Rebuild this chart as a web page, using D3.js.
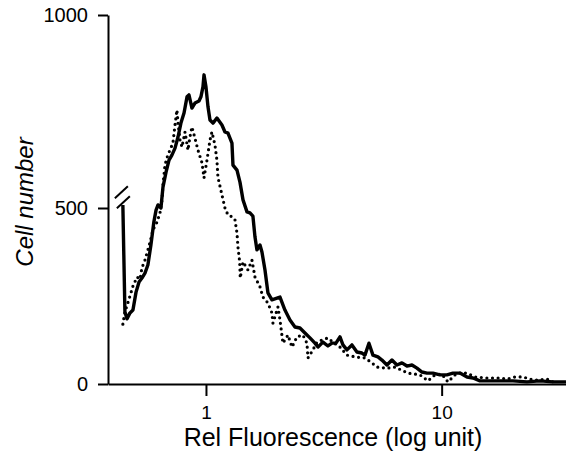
<!DOCTYPE html>
<html>
<head>
<meta charset="utf-8">
<script src="https://cdn.jsdelivr.net/npm/d3@7"></script>
<style>
  body { margin: 0; background: #fff; }
  text { font-family: "Liberation Sans", Arial, Helvetica, sans-serif; fill: #000; }
</style>
</head>
<body>
<div id="chart"></div>
<script>
// Flow cytometry histogram: two overlaid distributions
// (solid = one sample, dotted = the other).

////////////////////////////////////////////////////////////////////////
// Data

// solid curve: relative fluorescence and cell number
let solidX = [0.444, 0.453, 0.462, 0.476, 0.490, 0.505, 0.520, 0.535, 0.551, 0.567,
  0.584, 0.601, 0.614, 0.626, 0.644, 0.657, 0.677, 0.697, 0.717, 0.739,
  0.761, 0.783, 0.807, 0.831, 0.847, 0.872, 0.898, 0.934, 0.952, 0.971,
  0.981, 1.000, 1.020, 1.040, 1.071, 1.113, 1.169, 1.204, 1.240, 1.289,
  1.302, 1.354, 1.394, 1.436, 1.493, 1.537, 1.582, 1.614, 1.646, 1.695,
  1.728, 1.780, 1.832, 1.905, 2.001, 2.061, 2.163, 2.272, 2.386, 2.505,
  2.630, 2.762, 2.900, 2.987, 3.136, 3.293, 3.424, 3.561, 3.703, 3.813,
  3.964, 4.163, 4.371, 4.590, 4.727, 4.915, 5.110, 5.366, 5.580, 5.860,
  6.153, 6.461, 6.785, 7.125, 7.482, 7.857, 8.250, 8.663, 9.185, 9.835,
  10.53, 11.17, 11.96, 12.81, 13.58, 14.54, 16.03, 17.67, 20.07, 23.01,
  26.12, 29.67, 33.69];
let solidY = [508, 205, 185, 202, 210, 261, 290, 301, 315, 338,
  395, 460, 494, 508, 500, 554, 593, 624, 637, 655,
  684, 720, 746, 788, 793, 759, 772, 777, 788, 814,
  845, 814, 762, 728, 720, 733, 715, 697, 694, 668,
  611, 598, 567, 521, 489, 486, 477, 418, 381, 395,
  375, 324, 259, 239, 244, 247, 210, 182, 162, 159,
  145, 131, 116, 105, 119, 108, 116, 116, 134, 111,
  97, 111, 91, 88, 82, 116, 82, 77, 68, 54,
  68, 54, 60, 51, 54, 45, 34, 31, 31, 26,
  26, 31, 31, 20, 17, 9, 9, 9, 9, 6,
  9, 6, 6];

// dotted curve
let dottedX = [0.444, 0.453, 0.462, 0.476, 0.490, 0.510, 0.525, 0.535, 0.551, 0.567,
  0.579, 0.596, 0.620, 0.638, 0.651, 0.657, 0.670, 0.683, 0.703, 0.724,
  0.739, 0.753, 0.761, 0.776, 0.791, 0.815, 0.839, 0.855, 0.872, 0.898,
  0.925, 0.962, 0.981, 1.010, 1.040, 1.060, 1.092, 1.113, 1.124, 1.169,
  1.204, 1.240, 1.302, 1.328, 1.354, 1.367, 1.390, 1.398, 1.436, 1.507,
  1.567, 1.614, 1.695, 1.745, 1.832, 1.905, 1.924, 2.021, 2.061, 2.121,
  2.228, 2.317, 2.433, 2.579, 2.682, 2.709, 2.844, 2.958, 3.106, 3.293,
  3.459, 3.703, 3.964, 4.287, 4.727, 5.061, 5.314, 5.860, 6.336, 7.195,
  8.090, 8.747, 9.368, 10.03, 10.63, 11.61, 12.81, 13.85, 15.57, 17.67,
  18.92, 20.47, 22.13, 23.70, 25.38, 27.98, 29.67];
let dottedY = [170, 205, 222, 250, 278, 304, 298, 330, 352, 381,
  403, 438, 460, 486, 521, 560, 611, 630, 650, 668,
  715, 754, 720, 676, 658, 697, 650, 684, 710, 681,
  650, 617, 578, 624, 676, 697, 663, 624, 580, 534,
  500, 480, 474, 466, 429, 389, 347, 301, 347, 324,
  352, 304, 276, 247, 230, 202, 173, 219, 182, 116,
  139, 105, 134, 139, 116, 74, 97, 119, 125, 131,
  119, 105, 82, 77, 74, 60, 48, 45, 48, 31,
  26, 9, 26, 28, 6, 31, 31, 20, 17, 17,
  14, 20, 20, 14, 11, 14, 6];

let yTicks = [0, 500, 1000];
let xTicks = [1, 10];
let xTitle = "Rel Fluorescence (log unit)";
let yTitle = "Cell number";

////////////////////////////////////////////////////////////////////////
// Setup

let width = 566;
let height = 453;

let svg = d3.select("#chart")
  .append("svg")
  .attr("width", width).attr("height", height);

// log scale for fluorescence
let xScale = d3.scaleLog()
  .domain([0.384, 33.7])
  .range([108, 566]);

// the printed axis is not quite linear, so use a piecewise scale
let yScale = d3.scaleLinear()
  .domain([0, 500, 1000])
  .range([384, 208, 15]);

let solid = solidX.map((x, i) => ({x: x, y: solidY[i]}));
let dotted = dottedX.map((x, i) => ({x: x, y: dottedY[i]}));

let line = d3.line()
  .x(d => xScale(d.x))
  .y(d => yScale(d.y));

// curves
svg.append("path")
  .datum(dotted)
  .attr("d", line)
  .attr("fill", "none")
  .attr("stroke", "#000")
  .attr("stroke-width", 3.2)
  .attr("stroke-linecap", "round")
  .attr("stroke-dasharray", "0 5.6");

svg.append("path")
  .datum(solid)
  .attr("d", line)
  .attr("fill", "none")
  .attr("stroke", "#000")
  .attr("stroke-width", 3.4)
  .attr("stroke-linejoin", "round");

// break mark at the first (off-scale) bin
let bx = xScale(solidX[0]);
let by = yScale(528);
[-5, 5].forEach(off => {
  svg.append("line")
    .attr("x1", bx - 7 + off * 0.2).attr("y1", by + off + 6)
    .attr("x2", bx + 6 + off * 0.2).attr("y2", by + off - 6)
    .attr("stroke", "#000")
    .attr("stroke-width", 2);
});

// axes
let yAxis = g => g
  .attr("transform", `translate(108,0)`)
  .call(d3.axisLeft(yScale).tickValues(yTicks).tickFormat(d3.format("d"))
    .tickSize(10).tickPadding(10).tickSizeOuter(0));

let xAxis = g => g
  .attr("transform", `translate(0,384)`)
  .call(d3.axisBottom(xScale).tickValues(xTicks).tickFormat(d3.format("d"))
    .tickSize(12).tickSizeOuter(0));

svg.append("g").attr("id", "y_axis").call(yAxis);
svg.append("g").attr("id", "x_axis").call(xAxis);

svg.selectAll("#x_axis path, #y_axis path, .tick line")
  .attr("stroke", "#000")
  .attr("stroke-width", 2);

svg.selectAll("#y_axis text")
  .attr("font-size", 20)
  .attr("font-family", null);

svg.selectAll("#x_axis text")
  .attr("font-size", 19)
  .attr("font-family", null)
  .attr("y", 35)
  .attr("dy", null);

// axis labels
svg.append("text").attr("id", "x_label")
  .attr("x", 333)
  .attr("y", 446)
  .attr("font-size", 25)
  .style("text-anchor", "middle")
  .text(xTitle);

svg.append("text").attr("id", "y_label")
  .attr("transform", "translate(33,202) rotate(-90)")
  .attr("font-size", 24)
  .attr("font-style", "italic")
  .style("text-anchor", "middle")
  .text(yTitle);
</script>
</body>
</html>
